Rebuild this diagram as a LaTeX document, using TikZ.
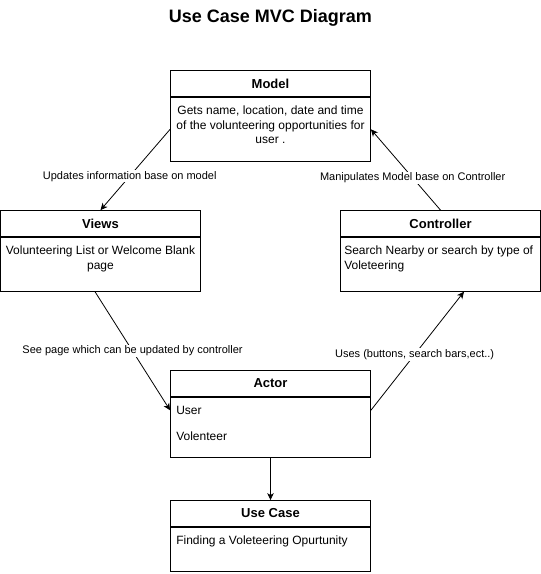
\documentclass[tikz,border=0pt]{standalone}
\usepackage{fontspec}
\setmainfont{Liberation Sans}
\usepackage{tikz}
\usetikzlibrary{arrows.meta,positioning}
\newcommand{\Link}[4]{\draw [link] (#1) to node [lbl, pos=#4] {#3} (#2);}

\begin{document}
\begin{tikzpicture}
[x=1pt, y=-1pt,
 link/.style={->, line width=0.8pt, >={Stealth[length=7pt,width=6.5pt,inset=2pt]}},
 head/.style={draw, line width=0.8pt, minimum width=200pt, minimum height=26pt, inner sep=0pt, font=\bfseries\fontsize{13}{15}\selectfont},
 frame/.style={draw, line width=0.8pt, minimum width=200pt, inner sep=0pt},
 txt/.style={inner sep=0pt, font=\fontsize{12}{14.5}\selectfont},
 lbl/.style={fill=white, inner sep=1pt, font=\fontsize{11}{13}\selectfont},]

\useasboundingbox (0,0) rectangle (541,574);

\node [anchor=base, font=\bfseries\fontsize{18}{22}\selectfont] at (270.5,22.7) (title) {Use Case MVC Diagram};

% model
\node [head] at (270.5,83.5) (model) {Model};
\node [frame, minimum height=64pt, below=0pt of model] (modelbody) {};
\node [txt, align=center, below=9pt of model] (modeltext) {Gets name, location, date and time\\of the volunteering opportunities for\\user .};

% views
\node [head] at (100.5,223.5) (views) {Views};
\node [frame, minimum height=54pt, below=0pt of views] (viewsbody) {};
\node [txt, align=center, below=9pt of views] (viewstext) {Volunteering List or Welcome Blank\\page};

% controller
\node [head] at (440.5,223.5) (controller) {Controller};
\node [frame, minimum height=54pt, below=0pt of controller] (controllerbody) {};
\node [txt, align=left, below right=9pt and 4pt of controller.south west] (controllertext) {Search Nearby or search by type of\\Voleteering};

% actor
\node [head] at (270.5,383.5) (actor) {Actor};
\node [frame, minimum height=60pt, below=0pt of actor] (actorbody) {};
\node [txt, below right=9pt and 6pt of actor.south west] (user) {User};
\node [txt, below right=35pt and 6pt of actor.south west] (volenteer) {Volenteer};

% use case
\node [head] at (270.5,513.5) (usecase) {Use Case};
\node [frame, minimum height=44pt, below=0pt of usecase] (usecasebody) {};
\node [txt, below right=9pt and 6pt of usecase.south west] (usecasetext) {Finding a Voleteering Opurtunity};

\Link{modelbody.west}{views.north}{Updates information base on model}{0.58}
\Link{controller.north}{modelbody.east}{Manipulates Model base on Controller}{0.4}
\Link{[xshift=-5.5pt]viewsbody.south}{actorbody.west |- user}{See page which can be updated by controller}{0.5}
\Link{actorbody.east |- user}{[xshift=23.5pt]controllerbody.south}{Uses (buttons, search bars,ect..)}{0.47}
\draw [link] (actorbody) -- (usecase);
\end{tikzpicture}
\end{document}
